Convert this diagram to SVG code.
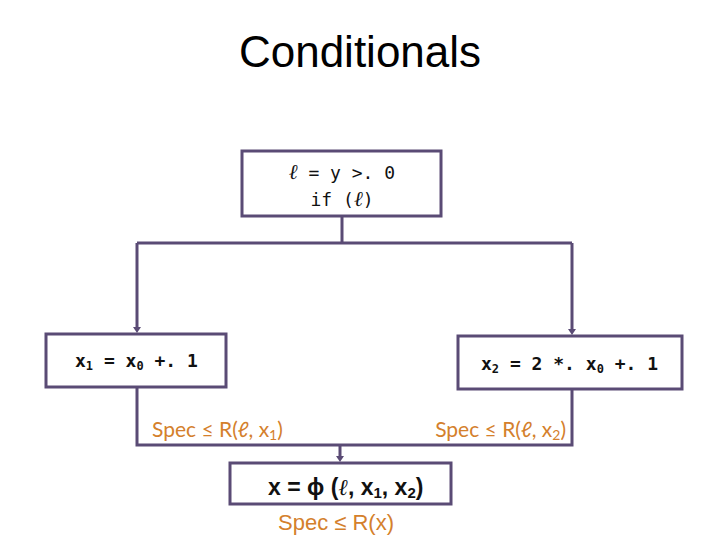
<svg xmlns="http://www.w3.org/2000/svg" width="720" height="540" viewBox="0 0 720 540">
<style>
.box{fill:#fff;stroke:#5a4b75;stroke-width:3}
.ln{fill:none;stroke:#5a4b75;stroke-width:3}
.ah{fill:#5a4b75}
.code{font-family:"DejaVu Sans Mono","Liberation Mono",monospace;font-size:18px;fill:#111}
.spec{font-family:Lato,"Open Sans",sans-serif;font-size:21px;fill:#d4802c}
</style>
<rect width="720" height="540" fill="#fff"/>
<text x="360" y="67" text-anchor="middle" font-family="Liberation Sans,Arial,sans-serif" font-size="44" fill="#000">Conditionals</text>
<g id="connectors">
<path class="ln" d="M342,216 V243"/>
<path class="ln" d="M137,243 H572"/>
<path class="ln" d="M137,243 V330"/>
<path class="ah" d="M133,327 L141,327 L137,333 Z"/>
<path class="ln" d="M572,243 V332"/>
<path class="ah" d="M568,329 L576,329 L572,335 Z"/>
<path class="ln" d="M137,387 V445 H572 V389"/>
<path class="ln" d="M340,445 V459"/>
<path class="ah" d="M336,456 L344,456 L340,462 Z"/>
</g>
<g id="n-cond">
<rect class="box" x="242" y="151" width="199" height="65"/>
<text class="code" x="342" y="179" text-anchor="middle"><tspan font-family="Liberation Serif,serif" font-style="italic" font-size="21">ℓ</tspan> = y &gt;. 0</text>
<text class="code" x="342" y="206" text-anchor="middle">if (<tspan font-family="Liberation Serif,serif" font-style="italic" font-size="21">ℓ</tspan>)</text>
</g>
<g id="n-then">
<rect class="box" x="46" y="334" width="180" height="53"/>
<text class="code" x="75" y="367" font-family="Liberation Mono,monospace" font-weight="bold" font-size="18">x<tspan font-size="12" dy="3">1</tspan><tspan dy="-3"> = x</tspan><tspan font-size="12" dy="3">0</tspan><tspan dy="-3"> +. 1</tspan></text>
</g>
<g id="n-else">
<rect class="box" x="458" y="336" width="224" height="53"/>
<text class="code" x="481" y="370" font-family="Liberation Mono,monospace" font-weight="bold" font-size="18">x<tspan font-size="12" dy="3">2</tspan><tspan dy="-3"> = 2 *. x</tspan><tspan font-size="12" dy="3">0</tspan><tspan dy="-3"> +. 1</tspan></text>
</g>
<text class="spec" x="152" y="437">Spec ≤ R(<tspan font-style="italic">ℓ</tspan>, x<tspan font-size="14" dy="3">1</tspan><tspan dy="-3">)</tspan></text>
<text class="spec" x="566" y="437" text-anchor="end">Spec ≤ R(<tspan font-style="italic">ℓ</tspan>, x<tspan font-size="14" dy="3">2</tspan><tspan dy="-3">)</tspan></text>
<g id="n-phi">
<rect class="box" x="230" y="463" width="221" height="41"/>
<text x="268" y="495" font-family="Liberation Sans,Arial,sans-serif" font-weight="bold" font-size="23" fill="#111">x = ϕ (<tspan font-family="Liberation Serif,serif" font-style="italic" font-weight="normal">ℓ</tspan>, x<tspan font-size="15" dy="3">1</tspan><tspan dy="-3">, x</tspan><tspan font-size="15" dy="3">2</tspan><tspan dy="-3">)</tspan></text>
</g>
<text x="336" y="530" text-anchor="middle" font-family="Liberation Sans,Arial,sans-serif" font-size="22" fill="#d4802c">Spec ≤ R(x)</text>
</svg>
